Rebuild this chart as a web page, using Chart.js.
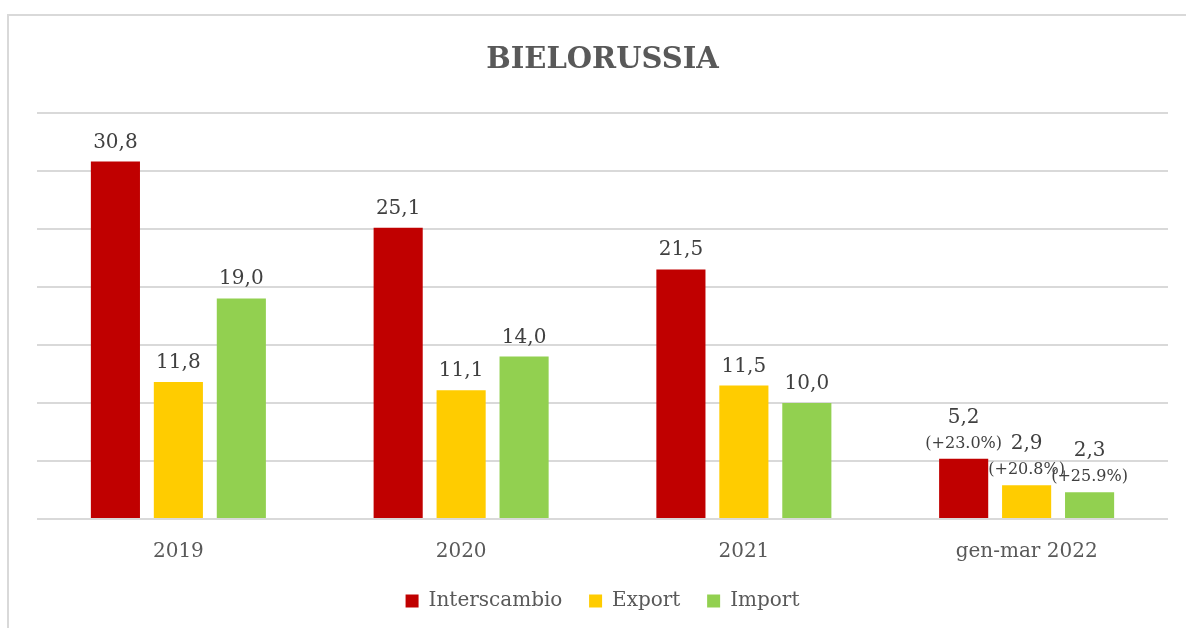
<!DOCTYPE html>
<html>
<head>
<meta charset="utf-8">
<script src="https://cdn.jsdelivr.net/npm/chart.js@4"></script>
<style>
  html, body { margin: 0; padding: 0; background: #fff; overflow: hidden; }
  #wrap { position: absolute; left: 0; top: 0; width: 1186px; height: 628px; }
</style>
</head>
<body>
<div id="wrap"><canvas id="chart"></canvas></div>
<script>
// values as printed on the bars
const categories = ['2019', '2020', '2021', 'gen-mar 2022'];
const interscambio = [30.8, 25.1, 21.5, 5.2];
const exportVals = [11.8, 11.1, 11.5, 2.9];
const importVals = [19.0, 14.0, 10.0, 2.3];
const interscambioChg = ['', '', '', '(+23.0%)'];
const exportChg = ['', '', '', '(+20.8%)'];
const importChg = ['', '', '', '(+25.9%)'];
const yTicks = [0, 5, 10, 15, 20, 25, 30, 35];

const FONT = "'DejaVu Serif', serif";

// outer frame of the chart object (only top and left edges are visible)
const frame = {
  id: 'frame',
  beforeDraw(chart) {
    const ctx = chart.ctx;
    ctx.save();
    ctx.strokeStyle = '#d9d9d9';
    ctx.lineWidth = 2;
    ctx.beginPath();
    ctx.moveTo(8, chart.height);
    ctx.lineTo(8, 15);
    ctx.lineTo(chart.width, 15);
    ctx.stroke();
    ctx.restore();
  }
};

// draws the value above each bar, plus the % change on a second line
const barLabels = {
  id: 'barLabels',
  afterDatasetsDraw(chart) {
    const ctx = chart.ctx;
    ctx.save();
    ctx.textAlign = 'center';
    ctx.textBaseline = 'alphabetic';
    chart.data.datasets.forEach((ds, di) => {
      const meta = chart.getDatasetMeta(di);
      meta.data.forEach((bar, i) => {
        const txt = ds.data[i].toFixed(1).replace('.', ',');
        const chg = ds.changes[i];
        ctx.fillStyle = '#404040';
        if (chg) {
          ctx.font = '16px ' + FONT;
          ctx.fillText(chg, bar.x, bar.y - 11);
          ctx.font = '20px ' + FONT;
          ctx.fillText(txt, bar.x, bar.y - 36);
        } else {
          ctx.font = '20px ' + FONT;
          ctx.fillText(txt, bar.x, bar.y - 14);
        }
      });
    });
    ctx.restore();
  }
};

new Chart(document.getElementById('chart'), {
  type: 'bar',
  data: {
    labels: categories,
    datasets: [
      { label: 'Interscambio', data: interscambio, changes: interscambioChg, backgroundColor: '#C00000' },
      { label: 'Export', data: exportVals, changes: exportChg, backgroundColor: '#FFCC00' },
      { label: 'Import', data: importVals, changes: importChg, backgroundColor: '#92D050' }
    ]
  },
  options: {
    responsive: true,
    maintainAspectRatio: false,
    animation: false,
    datasets: { bar: { categoryPercentage: 0.668, barPercentage: 0.78 } },
    layout: { padding: { left: 37, right: 18, top: 42, bottom: 7 } },
    plugins: {
      title: {
        display: true,
        text: 'BIELORUSSIA',
        color: '#595959',
        font: { family: FONT, size: 29, weight: 'bold' },
        padding: { top: 1, bottom: 35 }
      },
      legend: {
        position: 'bottom',
        labels: {
          color: '#595959',
          font: { family: FONT, size: 20 },
          boxWidth: 13, boxHeight: 13,
          padding: 14,
          // a bit more room between items, without making the legend taller
          generateLabels(chart) {
            const items = Chart.defaults.plugins.legend.labels.generateLabels(chart);
            items.forEach((it, i) => { if (i < items.length - 1) it.text += '  '; });
            return items;
          }
        }
      },
      tooltip: { enabled: false }
    },
    scales: {
      x: {
        grid: { display: false },
        border: { display: false },
        ticks: { color: '#595959', font: { family: FONT, size: 20 }, padding: 13 }
      },
      y: {
        min: 0, max: 35,
        afterBuildTicks(scale) { scale.ticks = yTicks.map(v => ({ value: v })); },
        afterFit(scale) { scale.width = 0; },
        grid: { color: '#d9d9d9', lineWidth: 2, drawTicks: false },
        border: { display: false },
        ticks: { display: false }
      }
    }
  },
  plugins: [frame, barLabels]
});
</script>
</body>
</html>
